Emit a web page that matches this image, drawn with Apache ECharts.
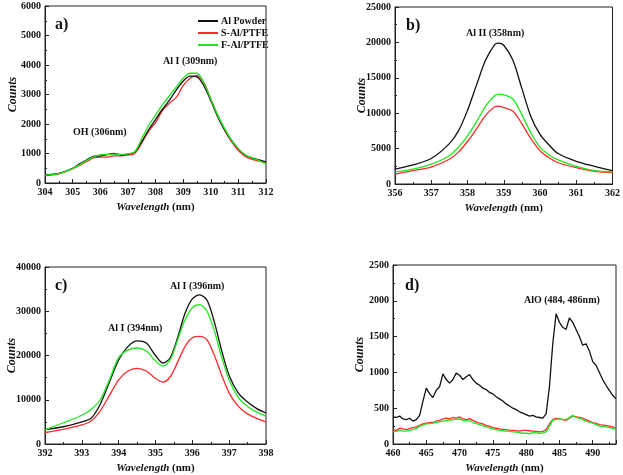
<!DOCTYPE html>
<html><head><meta charset="utf-8">
<script src="https://cdn.jsdelivr.net/npm/echarts@6/dist/echarts.min.js"></script>
<style>html,body{margin:0;padding:0;background:#fff}#c{width:623px;height:475px}</style>
</head><body><div id="c"></div>
<script>
const seriesNames = ['Al Powder', 'S-Al/PTFE', 'F-Al/PTFE'];

// Panel a) OH (306nm), Al I (309nm)
const aX = [304,304.5,305,305.25,305.5,305.75,306,306.25,306.5,306.75,307,307.25,307.5,307.75,308,308.25,308.5,308.75,309,309.25,309.5,309.75,310,310.25,310.5,310.75,311,311.25,311.5,311.75,312];
const aBlack = [280,330,500,650,780,900,920,960,1000,950,980,1050,1400,1800,2150,2500,2800,3150,3450,3620,3600,3300,2800,2250,1800,1450,1150,950,850,780,720];
const aRed   = [250,310,480,600,720,850,880,880,920,920,950,1000,1350,1750,2050,2450,2700,2900,3300,3550,3650,3400,2850,2300,1800,1400,1100,900,800,740,700];
const aGreen = [270,320,490,620,760,880,950,970,980,970,990,1060,1500,1950,2300,2650,2950,3250,3550,3720,3720,3400,2850,2300,1850,1450,1150,960,850,760,650];

// Panel b) Al II (358nm)
const bX = [356,356.5,357,357.5,357.75,358,358.25,358.5,358.75,358.85,359,359.25,359.5,359.75,360,360.25,360.5,361,361.5,362];
const bBlack = [2100,2700,3600,5700,7500,10400,14000,17500,19700,19900,19600,17500,13500,9500,7000,5500,4300,3200,2500,1900];
const bRed   = [1400,1900,2400,3500,4500,6000,7800,9700,10900,11000,10800,10300,8500,6400,4700,3700,3000,2300,1800,1600];
const bGreen = [1700,2100,2800,4000,5200,6800,8800,11000,12500,12700,12600,12000,9800,7200,5200,4100,3400,2500,1900,1700];

// Panel c) Al I (394nm), Al I (396nm)
const cX = [392,392.5,393,393.25,393.5,393.75,394,394.25,394.5,394.75,395,395.2,395.4,395.6,395.8,396,396.2,396.4,396.6,396.8,397,397.25,397.5,397.75,398];
const cBlack = [3300,3900,5000,5800,9000,14000,19000,22000,23300,22800,20000,18300,19500,24000,29500,32800,33700,32500,27500,21000,15500,11500,9500,8000,7000];
const cRed   = [2600,3300,4300,5200,7500,11000,14500,16500,17100,16500,14800,14000,15200,18500,22000,24000,24300,23500,20000,15500,11500,8500,6800,5800,5000];
const cGreen = [3200,4800,6500,7800,10000,14500,19500,21200,21700,21000,18800,17600,19000,23500,28000,30800,31500,30000,25500,19500,14500,10500,8500,7200,6300];

// Panel d) AlO (484, 486nm)
const dX = [460,460.5,461,461.5,462,462.5,463,463.5,464,464.5,465,465.5,466,466.5,467,467.5,468,468.5,469,469.5,470,470.5,471,471.5,472,472.5,473,473.5,474,474.5,475,475.5,476,476.5,477,477.5,478,478.5,479,479.5,480,480.5,481,481.5,482,482.5,483,483.5,484,484.5,485,485.5,486,486.5,487,487.5,488,488.5,489,489.5,490,490.5,491,491.5,492,492.5,493,493.5];
const dBlack = [380,370,390,350,340,360,320,340,400,600,780,700,650,750,800,980,900,850,900,990,960,900,940,970,900,850,820,780,760,720,700,660,630,600,560,530,500,480,450,430,410,390,400,380,370,360,420,800,1400,1820,1700,1630,1600,1760,1700,1600,1500,1380,1400,1300,1150,1100,1000,900,820,750,680,630];
const dRed   = [200,190,220,210,200,215,230,240,260,280,290,300,300,320,330,350,360,350,370,360,380,350,340,355,330,310,290,280,260,250,230,220,210,205,200,195,190,185,180,190,190,185,180,175,170,175,200,280,340,360,350,340,330,360,390,380,370,360,340,320,300,290,270,265,260,250,240,220];
const dGreen = [170,175,190,180,180,190,200,215,250,265,280,285,290,300,310,320,330,335,340,345,350,330,320,325,300,285,270,255,240,225,210,200,190,185,180,175,170,165,160,150,150,145,160,155,150,155,170,250,330,345,350,345,340,370,400,370,360,340,320,305,290,270,250,245,240,230,220,200];

const tickLabels = {
  a: [304,305,306,307,308,309,310,311,312],
  b: [356,357,358,359,360,361,362],
  c: [392,393,394,395,396,397,398],
  d: [460,465,470,475,480,485,490]
};

const zip = (xs, ys) => xs.map((x, i) => [x, ys[i]]);
const colors = ['#111111', '#ff2b2b', '#1fe81f'];
const font = 'Liberation Serif';

const grids = [
  {left: 45, top: 6, width: 221, height: 177},
  {left: 395, top: 7, width: 220, height: 177},
  {left: 45, top: 267, width: 221, height: 177},
  {left: 393, top: 265, width: 223, height: 180}
];
const xr = [[304,312,1],[356,362,1],[392,398,1],[460,493.5,5]];
const yr = [[0,6000,1000],[0,25000,5000],[0,40000,10000],[0,2500,500]];
const nameGaps = [26, 27, 27, 27];

const axisCommon = {
  axisLine: {show: true, lineStyle: {color: '#222', width: 1}},
  axisTick: {show: true, inside: true, length: 4, lineStyle: {color: '#222'}},
  minorTick: {show: true, splitNumber: 2, length: 2, lineStyle: {color: '#222'}},
  splitLine: {show: false},
  axisLabel: {color: '#111', fontFamily: font, fontWeight: 'bold', fontSize: 10, margin: 4}
};

const xAxes = xr.map((r, i) => Object.assign({}, axisCommon, {
  type: 'value', gridIndex: i, min: r[0], max: r[1], interval: r[2],
  name: '{i|Wavelength} (nm)', nameLocation: 'middle', nameGap: 19, nameMoveOverlap: false,
  nameTextStyle: {color: '#111', fontFamily: font, fontWeight: 'bold', fontSize: 11,
    rich: {i: {fontStyle: 'italic', fontFamily: font, fontWeight: 'bold', fontSize: 11, color: '#111'}}},
  axisLabel: Object.assign({}, axisCommon.axisLabel, {
    formatter: v => (Math.abs(v % r[2]) < 1e-9 ? String(v) : ''), showMaxLabel: i !== 3})
}));
const yAxes = yr.map((r, i) => Object.assign({}, axisCommon, {
  type: 'value', gridIndex: i, min: r[0], max: r[1], interval: r[2],
  axisLabel: Object.assign({}, axisCommon.axisLabel, {formatter: v => String(v)}),
  name: 'Counts', nameLocation: 'middle', nameGap: nameGaps[i], nameRotate: 90, nameMoveOverlap: false,
  nameTextStyle: {color: '#111', fontFamily: font, fontWeight: 'bold', fontStyle: 'italic', fontSize: 12}
}));

const panels = [[aX, aBlack, aRed, aGreen],[bX, bBlack, bRed, bGreen],[cX, cBlack, cRed, cGreen],[dX, dBlack, dRed, dGreen]];
const series = [];
panels.forEach((p, gi) => {
  [1, 2, 3].forEach((k, si) => {
    series.push({
      type: 'line', name: seriesNames[si], xAxisIndex: gi, yAxisIndex: gi,
      data: zip(p[0], p[k]), showSymbol: false, smooth: gi === 3 ? false : 0.3,
      lineStyle: {color: colors[si], width: 1.3}, itemStyle: {color: colors[si]},
      z: si === 0 ? 3 : (si === 1 ? 2 : 4)
    });
  });
});

const txt = (x, y, text, size, align) => ({
  type: 'text', left: x, top: y, z: 100,
  style: {text: text, font: 'bold ' + size + 'px "Liberation Serif"', fill: '#111', textAlign: align || 'left'}
});

const chart = echarts.init(document.getElementById('c'));
chart.setOption({
  backgroundColor: '#fff',
  animation: false,
  grid: grids.map(g => Object.assign({show: true, borderColor: '#222', borderWidth: 1, backgroundColor: 'transparent'}, g)),
  xAxis: xAxes,
  yAxis: yAxes,
  legend: {
    data: seriesNames, orient: 'vertical', left: 193, top: 11, itemGap: 2,
    itemWidth: 20, itemHeight: 2, icon: 'rect',
    textStyle: {fontFamily: font, fontWeight: 'bold', fontSize: 10, color: '#111', padding: [0,0,0,-2]}
  },
  series: series,
  graphic: [
    txt(55, 17, 'a)', 16), txt(163, 56, 'Al I (309nm)', 10), txt(73, 127, 'OH (306nm)', 10),
    txt(406, 18, 'b)', 16), txt(466, 28, 'Al II (358nm)', 10),
    txt(55, 278, 'c)', 16), txt(170, 281, 'Al I (396nm)', 10), txt(108, 323, 'Al I (394nm)', 10),
    txt(405, 278, 'd)', 16), txt(524, 295, 'AlO (484, 486nm)', 10)
  ]
});
</script></body></html>
